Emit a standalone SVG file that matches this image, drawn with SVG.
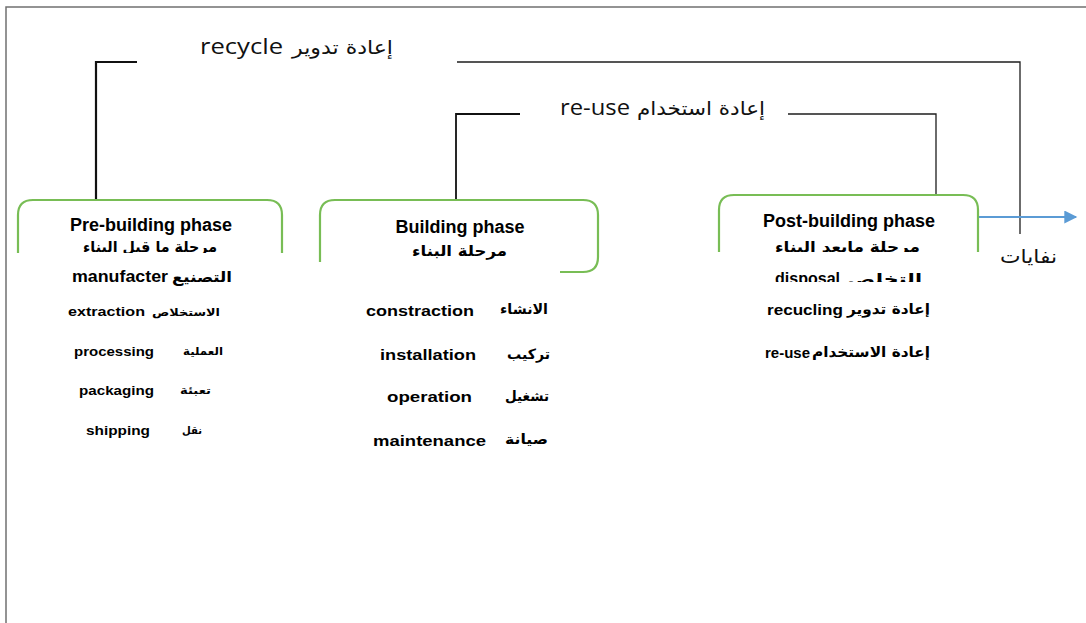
<svg xmlns="http://www.w3.org/2000/svg" width="1086" height="623" viewBox="0 0 1086 623">
  <style>
    .frame { fill: none; stroke: #707070; stroke-width: 1.5; }
    .box { fill: none; stroke: #78bd55; stroke-width: 2.2; stroke-linecap: butt; }
    .conn { fill: none; stroke: #1e1e1e; stroke-width: 1.3; }
    .conn-bold { fill: none; stroke: #111; stroke-width: 2.2; }
    .flow { fill: none; stroke: #5b9bd5; stroke-width: 2; }
    .lbl { font-family: "Open Sans", "Liberation Sans", sans-serif; font-size: 21px; fill: #111; }
    .lbl-ar { font-family: "DejaVu Sans", sans-serif; font-size: 19px; fill: #111; }
    .title { font-family: "Liberation Sans", Arial, sans-serif; font-weight: bold; font-size: 18px; fill: #000; text-anchor: middle; }
    .title-ar { font-family: "DejaVu Sans", sans-serif; font-weight: bold; font-size: 15px; fill: #000; }
    .item { font-family: "Liberation Sans", Arial, sans-serif; font-weight: bold; font-size: 15px; fill: #000; }
    .item-ar { font-family: "DejaVu Sans", sans-serif; font-weight: bold; font-size: 13px; fill: #000; }
  </style>
  <defs>
    <marker id="arrowhead" viewBox="0 0 10 10" refX="9" refY="5" markerWidth="7.5" markerHeight="6.5" orient="auto" markerUnits="strokeWidth">
      <path d="M0,0 L10,5 L0,10 z" fill="#5b9bd5"/>
    </marker>
    <clipPath id="clip-pre"><rect x="0" y="0" width="300" height="253"/></clipPath>
    <clipPath id="clip-post"><rect x="700" y="0" width="300" height="252"/></clipPath>
    <clipPath id="clip-post-row"><rect x="700" y="258" width="300" height="24"/></clipPath>
  </defs>

  <rect width="1086" height="623" fill="#fff"/>

  <!-- page frame -->
  <path class="frame" d="M6,623 V7 H1086"/>

  <!-- connectors -->
  <g id="connectors">
    <path class="conn-bold" d="M96,200 V62 H137"/>
    <path class="conn" d="M457,62 H1020 V234"/>
    <path class="conn-bold" d="M456,199 V114 H520" style="stroke-width:1.8"/>
    <path class="conn" d="M788,114 H936 V195"/>
    <path class="flow" d="M978,217 H1076" marker-end="url(#arrowhead)"/>
  </g>

  <!-- loop labels -->
  <g id="recycle-label">
    <text class="lbl" x="200" y="54" textLength="83" lengthAdjust="spacingAndGlyphs">recycle</text>
    <text class="lbl-ar" x="292" y="54" textLength="101" lengthAdjust="spacingAndGlyphs">إعادة تدوير</text>
  </g>
  <g id="reuse-label">
    <text class="lbl" x="560" y="115" textLength="70" lengthAdjust="spacingAndGlyphs">re-use</text>
    <text class="lbl-ar" x="637" y="115" textLength="128" lengthAdjust="spacingAndGlyphs">إعادة استخدام</text>
  </g>
  <g id="waste-label">
    <text class="lbl-ar" x="1000" y="263" textLength="57" lengthAdjust="spacingAndGlyphs">نفايات</text>
  </g>

  <!-- pre-building phase -->
  <g id="pre-building">
    <path class="box" d="M18,253 V215 Q18,200 33,200 H267 Q282,200 282,215 V253"/>
    <text class="title" x="151" y="231">Pre-building phase</text>
    <g clip-path="url(#clip-pre)">
      <text class="title-ar" x="83" y="252" textLength="134" lengthAdjust="spacingAndGlyphs">مرحلة ما قبل البناء</text>
    </g>
    <text class="item" x="72" y="282" textLength="96" lengthAdjust="spacingAndGlyphs" style="font-size:16px">manufacter</text>
    <text class="title-ar" x="172" y="282" textLength="60" lengthAdjust="spacingAndGlyphs">التصنيع</text>
    <text class="item" x="68" y="316" textLength="77" lengthAdjust="spacingAndGlyphs" style="font-size:13px">extraction</text>
    <text class="item-ar" x="152" y="316" textLength="68" lengthAdjust="spacingAndGlyphs" style="font-size:11px">الاستخلاص</text>
    <text class="item" x="74" y="356" textLength="80" lengthAdjust="spacingAndGlyphs" style="font-size:13px">processing</text>
    <text class="item-ar" x="183" y="355" textLength="40" lengthAdjust="spacingAndGlyphs" style="font-size:11px">العملية</text>
    <text class="item" x="79" y="395" textLength="75" lengthAdjust="spacingAndGlyphs" style="font-size:13px">packaging</text>
    <text class="item-ar" x="180" y="394" textLength="31" lengthAdjust="spacingAndGlyphs" style="font-size:11px">تعبئة</text>
    <text class="item" x="86" y="435" textLength="64" lengthAdjust="spacingAndGlyphs" style="font-size:13px">shipping</text>
    <text class="item-ar" x="182" y="434" textLength="20" lengthAdjust="spacingAndGlyphs" style="font-size:11px">نقل</text>
  </g>

  <!-- building phase -->
  <g id="building">
    <path class="box" d="M320,262 V215 Q320,200 335,200 H583 Q598,200 598,215 V257 Q598,272 583,272 H560"/>
    <text class="title" x="460" y="233">Building phase</text>
    <text class="title-ar" x="412" y="256" textLength="95" lengthAdjust="spacingAndGlyphs">مرحلة البناء</text>
    <text class="item" x="366" y="316" textLength="108" lengthAdjust="spacingAndGlyphs">constraction</text>
    <text class="item-ar" x="500" y="314" textLength="48" lengthAdjust="spacingAndGlyphs" style="font-size:14px">الانشاء</text>
    <text class="item" x="380" y="360" textLength="96" lengthAdjust="spacingAndGlyphs">installation</text>
    <text class="item-ar" x="507" y="359" textLength="43" lengthAdjust="spacingAndGlyphs" style="font-size:14px">تركيب</text>
    <text class="item" x="387" y="402" textLength="85" lengthAdjust="spacingAndGlyphs">operation</text>
    <text class="item-ar" x="505" y="401" textLength="44" lengthAdjust="spacingAndGlyphs" style="font-size:14px">تشغيل</text>
    <text class="item" x="373" y="446" textLength="113" lengthAdjust="spacingAndGlyphs">maintenance</text>
    <text class="item-ar" x="505" y="444" textLength="43" lengthAdjust="spacingAndGlyphs" style="font-size:14px">صيانة</text>
  </g>

  <!-- post-building phase -->
  <g id="post-building">
    <path class="box" d="M719,252 V210 Q719,195 734,195 H963 Q978,195 978,210 V252"/>
    <text class="title" x="849" y="227">Post-building phase</text>
    <g clip-path="url(#clip-post)">
      <text class="title-ar" x="775" y="252" textLength="145" lengthAdjust="spacingAndGlyphs">مرحلة مابعد البناء</text>
    </g>
    <g clip-path="url(#clip-post-row)">
      <text class="item" x="775" y="284" textLength="65" lengthAdjust="spacingAndGlyphs" style="font-size:17px">disposal</text>
      <text class="title-ar" x="847" y="284" textLength="75" lengthAdjust="spacingAndGlyphs">التخلص</text>
    </g>
    <text class="item" x="767" y="315" textLength="76" lengthAdjust="spacingAndGlyphs">recucling</text>
    <text class="item-ar" x="847" y="314" textLength="83" lengthAdjust="spacingAndGlyphs" style="font-size:14px">إعادة تدوير</text>
    <text class="item" x="765" y="358" textLength="45" lengthAdjust="spacingAndGlyphs">re-use</text>
    <text class="item-ar" x="812" y="357" textLength="118" lengthAdjust="spacingAndGlyphs" style="font-size:14px">إعادة الاستخدام</text>
  </g>
</svg>
